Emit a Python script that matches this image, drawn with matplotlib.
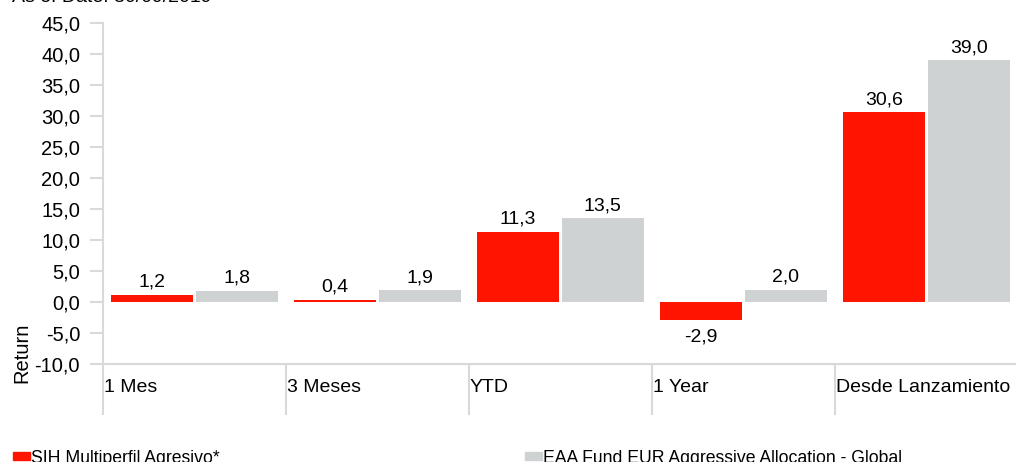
import matplotlib
matplotlib.use('Agg')
import matplotlib.pyplot as plt
import matplotlib.transforms as mtransforms
import numpy as np

categories = ['1 Mes', '3 Meses', 'YTD', '1 Year', 'Desde Lanzamiento']
fund = [1.2, 0.4, 11.3, -2.9, 30.6]
peer = [1.8, 1.9, 13.5, 2.0, 39.0]
fund_name = 'SIH Multiperfil Agresivo*'
peer_name = 'EAA Fund EUR Aggressive Allocation - Global'
yticks = np.arange(-10, 46, 5)

red = '#ff1400'
grey = '#cfd2d3'
axis_col = '#d9d9d9'

plt.rcParams['font.family'] = ['Liberation Sans', 'DejaVu Sans']

fig = plt.figure(figsize=(10.16, 4.62), dpi=100)
ax = fig.add_axes([103 / 1016, 1 - 364 / 462, 915 / 1016, (364 - 23) / 462])

x = np.arange(len(categories))
w = 0.448
b1 = ax.bar(x + 0.268, fund, w, color=red, label=fund_name)
b2 = ax.bar(x + 0.731, peer, w, color=grey, label=peer_name)

def fmt(v):
    return ('%.1f' % v).replace('.', ',')

for bars, vals in [(b1, fund), (b2, peer)]:
    for r, v in zip(bars, vals):
        if v >= 0:
            ax.annotate(fmt(v), (r.get_x() + r.get_width() / 2, v), xytext=(0, 3),
                        textcoords='offset points', ha='center', va='bottom', fontsize=14)
        else:
            ax.annotate(fmt(v), (r.get_x() + r.get_width() / 2, v), xytext=(0, -6),
                        textcoords='offset points', ha='center', va='top', fontsize=14)

ax.set_xlim(0, len(categories))
ax.set_ylim(-10, 45)
ax.set_yticks(yticks)
ax.set_yticklabels([fmt(v) for v in yticks], fontsize=14.5)
ax.set_xticks(np.arange(len(categories) + 1))
ax.set_xticklabels([])
ax.tick_params(axis='x', length=37, width=1.5, color=axis_col, direction='out')
ax.tick_params(axis='y', length=9.5, width=1.5, color=axis_col, pad=7)

trans = mtransforms.blended_transform_factory(ax.transData, ax.transAxes)
for i, c in enumerate(categories):
    ax.text(i + 0.005, -0.068, c, transform=trans, ha='left', va='center', fontsize=14)

for s in ['top', 'right']:
    ax.spines[s].set_visible(False)
ax.spines['left'].set_color(axis_col)
ax.spines['bottom'].set_color(axis_col)
ax.spines['left'].set_linewidth(1.5)
ax.spines['bottom'].set_linewidth(1.5)
ax.spines['bottom'].set_position(('data', -10))

fig.text(22 / 1016, 1 - 353 / 462, 'Return', rotation=90, ha='center', va='center', fontsize=14.5)
fig.text(12 / 1016, 1 - 2 / 462, 'As of Date: 30/09/2019', ha='left', va='baseline', fontsize=14)

# legend drawn by hand at the bottom (it's cut off in the original)
for xl, name, col in [(13, fund_name, red), (525, peer_name, grey)]:
    fig.patches.append(plt.Rectangle((xl / 1016, 1 - 460 / 462), 17 / 1016, 8 / 462,
                                     transform=fig.transFigure, color=col))
    fig.text((xl + 18) / 1016, 1 - 463 / 462, name, ha='left', va='baseline', fontsize=12.7)

plt.savefig('out.png', dpi=100)
